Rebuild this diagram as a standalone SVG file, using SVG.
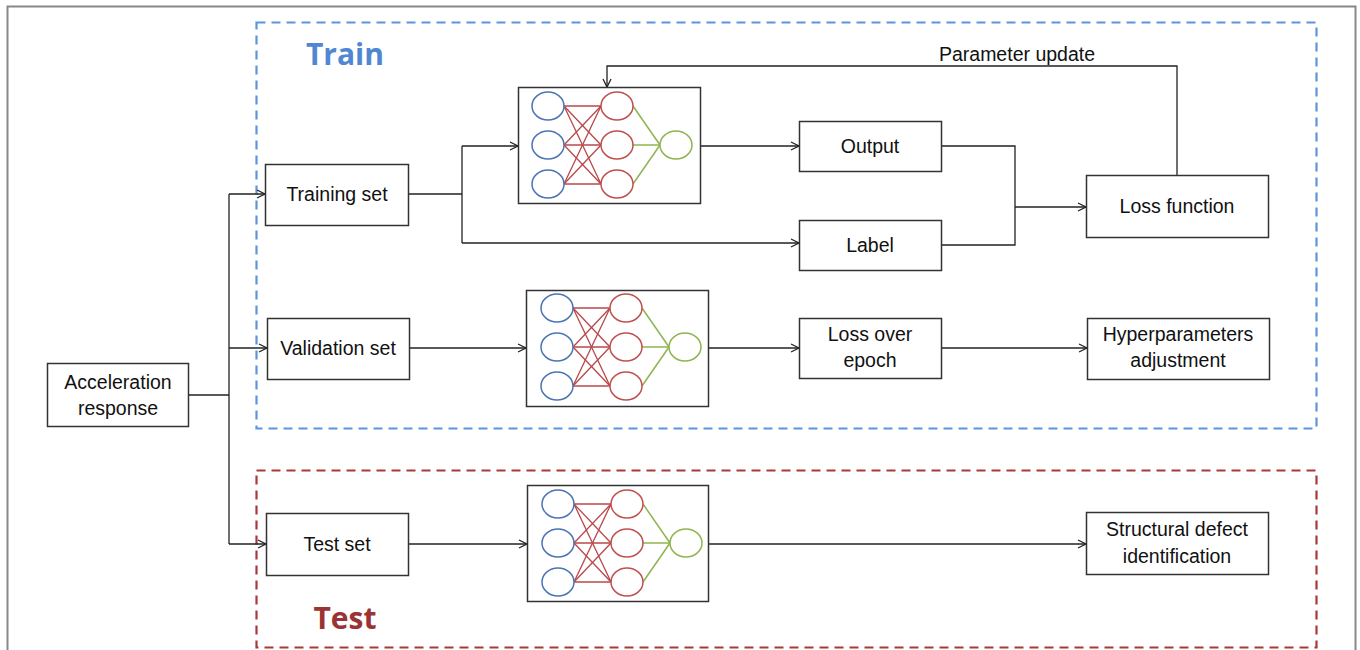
<svg xmlns="http://www.w3.org/2000/svg" width="1360" height="650" viewBox="0 0 1360 650">
<style>
.box{fill:#fff;stroke:#333;stroke-width:1.5}
.t{font-family:"Liberation Sans",Arial,sans-serif;font-size:19.5px;fill:#111;text-anchor:middle}
.c{fill:none;stroke:#222;stroke-width:1.3}
.b{fill:#fff;stroke:#4a74b4;stroke-width:1.5}
.r{fill:#fff;stroke:#c0504d;stroke-width:1.5}
.g{fill:#fff;stroke:#8fb44e;stroke-width:1.5}
.rl{stroke:#b8474a;stroke-width:1.3}
.gl{stroke:#8fb44e;stroke-width:1.5}
</style>
<defs>
<marker id="ar" markerWidth="12" markerHeight="12" refX="10" refY="6" orient="auto" markerUnits="userSpaceOnUse">
<polyline points="2,2 10,6 2,10" fill="none" stroke="#222" stroke-width="1.3"/>
</marker>
<g id="nn">
<g class="rl">
<line x1="16" y1="0" x2="53" y2="0"/><line x1="16" y1="0" x2="53" y2="39"/><line x1="16" y1="0" x2="53" y2="78"/>
<line x1="16" y1="39" x2="53" y2="0"/><line x1="16" y1="39" x2="53" y2="39"/><line x1="16" y1="39" x2="53" y2="78"/>
<line x1="16" y1="78" x2="53" y2="0"/><line x1="16" y1="78" x2="53" y2="39"/><line x1="16" y1="78" x2="53" y2="78"/>
</g>
<g class="gl">
<line x1="85" y1="0" x2="112" y2="39"/><line x1="85" y1="39" x2="112" y2="39"/><line x1="85" y1="78" x2="112" y2="39"/>
</g>
<ellipse class="b" cx="0" cy="0" rx="16" ry="14"/>
<ellipse class="b" cx="0" cy="39" rx="16" ry="14"/>
<ellipse class="b" cx="0" cy="78" rx="16" ry="14"/>
<ellipse class="r" cx="69" cy="0" rx="16" ry="14"/>
<ellipse class="r" cx="69" cy="39" rx="16" ry="14"/>
<ellipse class="r" cx="69" cy="78" rx="16" ry="14"/>
<ellipse class="g" cx="128" cy="39" rx="16" ry="14"/>
</g>
</defs>
<rect x="0" y="0" width="1360" height="650" fill="#fff"/>
<rect x="7.5" y="6.5" width="1348" height="660" fill="none" stroke="#888" stroke-width="2"/>

<g id="train-region">
<rect x="256.5" y="22.5" width="1060" height="406" fill="none" stroke="#5b95dc" stroke-width="2.2" stroke-dasharray="9,6"/>
<text x="345" y="65" font-family="'Open Sans','Liberation Sans',sans-serif" font-size="30" font-weight="bold" fill="#4f87d2" text-anchor="middle">Train</text>
</g>
<g id="test-region">
<rect x="256.5" y="470.5" width="1060" height="177" fill="none" stroke="#a8393b" stroke-width="2.2" stroke-dasharray="9,6"/>
<text x="345" y="629" font-family="'Open Sans','Liberation Sans',sans-serif" font-size="30" font-weight="bold" fill="#9a3334" text-anchor="middle">Test</text>
</g>

<g id="connectors">
<path class="c" d="M188,395 H229" stroke-width="2"/>
<path class="c" d="M229,194 V544"/>
<path class="c" d="M229,194 H265" marker-end="url(#ar)"/>
<path class="c" d="M229,348 H267" marker-end="url(#ar)"/>
<path class="c" d="M229,544 H266" marker-end="url(#ar)"/>
<path class="c" d="M408,194 H462" stroke-width="1.8"/>
<path class="c" d="M462,146 V243"/>
<path class="c" d="M462,146 H518" marker-end="url(#ar)"/>
<path class="c" d="M462,243 H799" marker-end="url(#ar)"/>
<path class="c" d="M700,146 H799" marker-end="url(#ar)"/>
<path class="c" d="M941,146 H1015 V245 H941"/>
<path class="c" d="M1015,207 H1086" marker-end="url(#ar)"/>
<path class="c" d="M1177,175 V66 H607 V87" marker-end="url(#ar)"/>
<path class="c" d="M409,348 H526" marker-end="url(#ar)"/>
<path class="c" d="M708,348 H799" marker-end="url(#ar)"/>
<path class="c" d="M941,348 H1087" marker-end="url(#ar)"/>
<path class="c" d="M408,544 H527" marker-end="url(#ar)"/>
<path class="c" d="M708,544 H1086" marker-end="url(#ar)"/>
<text class="t" x="1017" y="61">Parameter update</text>
</g>

<g id="acceleration-response">
<rect class="box" x="47.5" y="363.5" width="141" height="63"/>
<text class="t" x="118" y="389">Acceleration</text>
<text class="t" x="118" y="415">response</text>
</g>
<g id="training-set">
<rect class="box" x="265.5" y="164.5" width="143" height="61"/>
<text class="t" x="337" y="201">Training set</text>
</g>
<g id="validation-set">
<rect class="box" x="267.5" y="318.5" width="142" height="61"/>
<text class="t" x="338" y="355">Validation set</text>
</g>
<g id="test-set">
<rect class="box" x="266.5" y="513.5" width="142" height="62"/>
<text class="t" x="337" y="551">Test set</text>
</g>
<g id="nn-train">
<rect class="box" x="518.5" y="87.5" width="182" height="116"/>
<use href="#nn" x="548" y="106"/>
</g>
<g id="nn-validation">
<rect class="box" x="526.5" y="290.5" width="182" height="116"/>
<use href="#nn" x="557" y="308"/>
</g>
<g id="nn-test">
<rect class="box" x="527.5" y="485.5" width="181" height="116"/>
<use href="#nn" x="558" y="504"/>
</g>
<g id="output">
<rect class="box" x="799.5" y="121.5" width="142" height="50"/>
<text class="t" x="870" y="153">Output</text>
</g>
<g id="label">
<rect class="box" x="799.5" y="220.5" width="142" height="50"/>
<text class="t" x="870" y="252">Label</text>
</g>
<g id="loss-function">
<rect class="box" x="1086.5" y="175.5" width="182" height="62"/>
<text class="t" x="1177" y="213">Loss function</text>
</g>
<g id="loss-over-epoch">
<rect class="box" x="799.5" y="318.5" width="142" height="60"/>
<text class="t" x="870" y="341">Loss over</text>
<text class="t" x="870" y="367">epoch</text>
</g>
<g id="hyperparameters-adjustment">
<rect class="box" x="1087.5" y="318.5" width="182" height="61"/>
<text class="t" x="1178" y="341">Hyperparameters</text>
<text class="t" x="1178" y="367">adjustment</text>
</g>
<g id="structural-defect-identification">
<rect class="box" x="1086.5" y="512.5" width="182" height="62"/>
<text class="t" x="1177" y="536">Structural defect</text>
<text class="t" x="1177" y="563">identification</text>
</g>
</svg>
